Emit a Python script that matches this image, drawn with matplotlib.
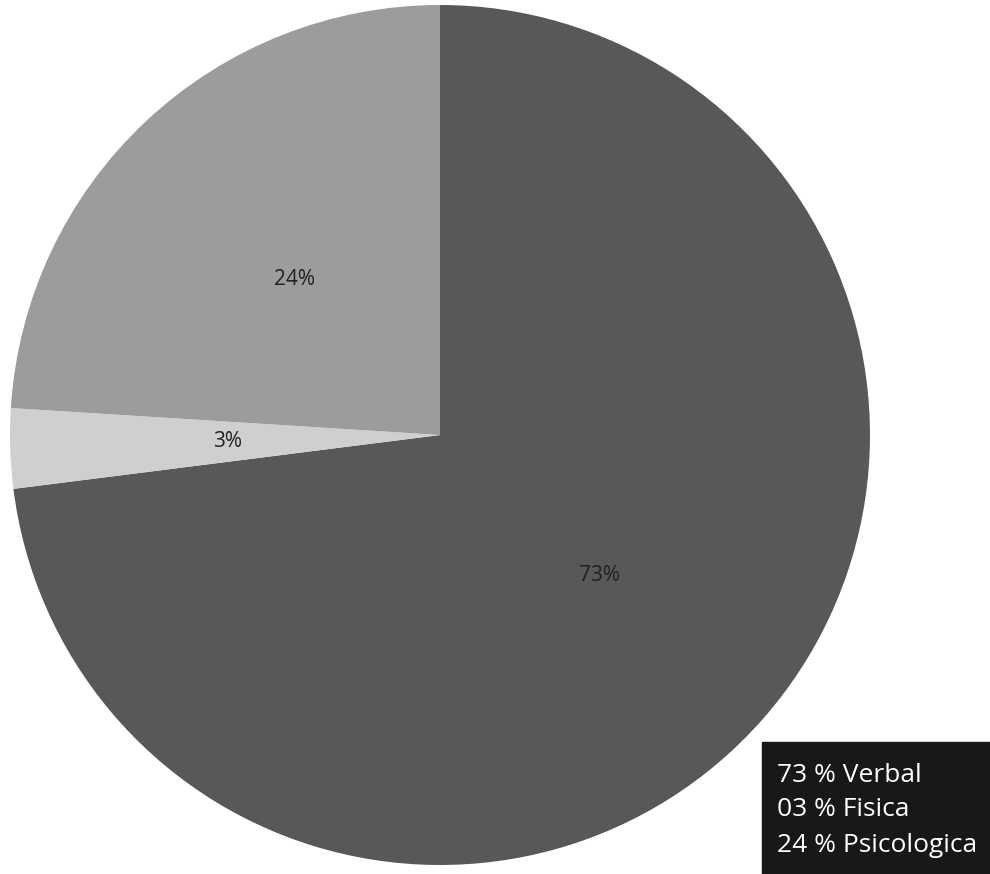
import matplotlib
matplotlib.use("Agg")
from matplotlib import pyplot as plt
from matplotlib.patches import Rectangle

plt.rcParams['font.family'] = ['Open Sans', 'DejaVu Sans']

# data
categorias = ["Verbal", "Fisica", "Psicologica"]
valores = [73, 3, 24]
colores = ["#585858", "#cfcfcf", "#9c9c9c"]

W, H = 990, 874
fig = plt.figure(figsize=(W / 100, H / 100), dpi=100)

# pie axes: centre (440, 435) px, radius 430 px
cx, cy, r = 440, 435, 430
ax = fig.add_axes([(cx - r) / W, (H - cy - r) / H, 2 * r / W, 2 * r / H])
ax.pie(valores, colors=colores, startangle=90, counterclock=False,
       autopct="%1.0f%%", pctdistance=0.495,
       textprops={"fontsize": 15, "color": "#222222"})
ax.set_xlim(-1, 1)
ax.set_ylim(-1, 1)
ax.set_aspect("equal")
ax.axis("off")

# legend box, drawn as a dark panel with white text
fig.patches.append(Rectangle((762 / W, 0), (W - 762) / W, (H - 742) / H,
                             transform=fig.transFigure, color="#181818", zorder=5))
y0 = 775
for i, (v, c) in enumerate(zip(valores, categorias)):
    fig.text(777 / W, 1 - (y0 + i * 35) / H, f"{v:02d} % {c}", color="white",
             fontsize=19, va="center", ha="left", zorder=6)

fig.savefig("out.png", dpi=100)
